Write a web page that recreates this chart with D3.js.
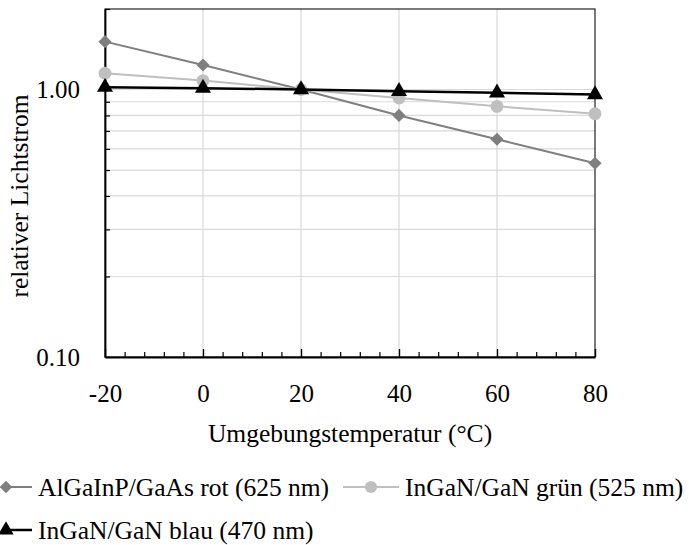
<!DOCTYPE html>
<html>
<head>
<meta charset="utf-8">
<script src="https://cdn.jsdelivr.net/npm/d3@7"></script>
<style>
  html, body { margin: 0; padding: 0; background: #fff; }
  svg { display: block; font-family: "Palatino Linotype", "Book Antiqua", Palatino, "Liberation Serif", serif; }
</style>
</head>
<body>
<svg id="chart" width="689" height="545"></svg>
<script>
// Temperatures (°C) and relative luminous flux per LED type
const temperatures = [-20, 0, 20, 40, 60, 80];
const redAlGaInP   = [1.51, 1.235, 1.00, 0.80, 0.652, 0.530];
const greenInGaN   = [1.15, 1.08, 1.00, 0.93, 0.865, 0.812];
const blueInGaN    = [1.02, 1.012, 1.00, 0.985, 0.972, 0.958];

const seriesNames = ["AlGaInP/GaAs rot (625 nm)", "InGaN/GaN grün (525 nm)", "InGaN/GaN blau (470 nm)"];
const yTickLabels = ["0.10", "1.00"];
const xTickValues = [-20, 0, 20, 40, 60, 80];

const svg = d3.select("#chart");
const W = 689, H = 545;
const m = { left: 105, right: 94, top: 9, bottom: 188 };
const x0 = m.left, x1 = W - m.right, y0 = H - m.bottom, y1 = m.top;

const x = d3.scaleLinear().domain([-20, 80]).range([x0, x1]);
const y = d3.scaleLog().domain([0.1, 2]).range([y0, y1]);

const gridColor = "#d9d9d9";
const tickFont = 25;
const labelFont = 25.5;

// horizontal gridlines (minor decade steps)
const hGrid = [0.2, 0.3, 0.4, 0.5, 0.6, 0.7, 0.8, 0.9, 1.0];
svg.append("g").selectAll("line").data(hGrid).join("line")
  .attr("x1", x0).attr("x2", x1)
  .attr("y1", d => y(d)).attr("y2", d => y(d))
  .attr("stroke", gridColor).attr("stroke-width", 1.2);

// vertical gridlines
svg.append("g").selectAll("line").data([0, 20, 40, 60]).join("line")
  .attr("x1", d => x(d)).attr("x2", d => x(d))
  .attr("y1", y1).attr("y2", y0)
  .attr("stroke", gridColor).attr("stroke-width", 1.2);

// frame
svg.append("rect").attr("x", x0).attr("y", y1)
  .attr("width", x1 - x0).attr("height", y0 - y1)
  .attr("fill", "none").attr("stroke", "#222").attr("stroke-width", 1.2);

// y axis with inward ticks
const yAxis = d3.axisLeft(y)
  .tickValues([0.1, 0.2, 0.3, 0.4, 0.5, 0.6, 0.7, 0.8, 0.9, 1.0, 2.0])
  .tickSizeInner(-5).tickSizeOuter(0)
  .tickFormat(d => {
    const i = [0.1, 1.0].indexOf(d);
    return i >= 0 ? yTickLabels[i] : "";
  });
const gy = svg.append("g").attr("transform", `translate(${x0},0)`).call(yAxis)
  .attr("font-family", null).attr("font-size", tickFont);
gy.select(".domain").attr("stroke", "#000").attr("stroke-width", 1.8);
gy.selectAll(".tick line").attr("stroke", "#000").attr("stroke-width", 1.2);
gy.selectAll(".tick text").attr("x", -25).attr("fill", "#000");

// x axis: minor ticks every 4, major every 20, all pointing inward
const minorX = d3.range(-20, 81, 4).filter(v => v % 20 !== 0);
const gxMinor = svg.append("g").attr("transform", `translate(0,${y0})`)
  .call(d3.axisBottom(x).tickValues(minorX).tickSizeInner(-5).tickSizeOuter(0).tickFormat(""));
gxMinor.select(".domain").remove();
gxMinor.selectAll(".tick line").attr("stroke", "#000").attr("stroke-width", 1.2);

const gx = svg.append("g").attr("transform", `translate(0,${y0})`)
  .call(d3.axisBottom(x).tickValues(xTickValues).tickSizeInner(-8).tickSizeOuter(0)
    .tickFormat(d => String(d)))
  .attr("font-family", null).attr("font-size", tickFont);
gx.select(".domain").attr("stroke", "#000").attr("stroke-width", 1.8);
gx.selectAll(".tick line").attr("stroke", "#000").attr("stroke-width", 1.4);
gx.selectAll(".tick text").attr("y", 36).attr("dy", "0.35em").attr("fill", "#000");

// axis titles
svg.append("text")
  .attr("x", (x0 + x1) / 2).attr("y", 442)
  .attr("text-anchor", "middle").attr("font-size", labelFont)
  .text("Umgebungstemperatur (°C)");
svg.append("text")
  .attr("transform", "translate(28,196) rotate(-90)")
  .attr("text-anchor", "middle").attr("font-size", labelFont)
  .text("relativer Lichtstrom");

// series definitions
const series = [
  { name: seriesNames[0], values: redAlGaInP, color: "#7f7f7f", width: 2, symbol: d3.symbolDiamond2, size: 110, fill: "#7f7f7f" },
  { name: seriesNames[1], values: greenInGaN, color: "#bfbfbf", width: 2, symbol: d3.symbolCircle, size: 130, fill: "#bfbfbf" },
  { name: seriesNames[2], values: blueInGaN,  color: "#000000", width: 2.5, symbol: d3.symbolTriangle, size: 112, fill: "#000000" }
];

const line = d3.line().x(d => x(d[0])).y(d => y(d[1]));

series.forEach(s => {
  const pts = temperatures.map((t, i) => [t, s.values[i]]);
  svg.append("path").datum(pts)
    .attr("d", line).attr("fill", "none")
    .attr("stroke", s.color).attr("stroke-width", s.width);
  svg.append("g").selectAll("path").data(pts).join("path")
    .attr("transform", d => `translate(${x(d[0])},${y(d[1])})`)
    .attr("d", d3.symbol().type(s.symbol).size(s.size))
    .attr("fill", s.fill);
});

// legend
const legendItems = [
  { s: series[0], lx: 0, ly: 487 },
  { s: series[1], lx: 343, ly: 487 },
  { s: series[2], lx: 0, ly: 530 }
];
legendItems.forEach(({ s, lx, ly }) => {
  const g = svg.append("g").attr("transform", `translate(${lx},${ly})`);
  const lineLen = lx === 0 ? 32 : 56;
  g.append("line").attr("x1", lx === 0 ? 4 : 0).attr("x2", lineLen)
    .attr("y1", 0).attr("y2", 0)
    .attr("stroke", s.color).attr("stroke-width", s.width);
  g.append("path")
    .attr("transform", `translate(${lx === 0 ? 6 : lineLen / 2},0)`)
    .attr("d", d3.symbol().type(s.symbol).size(s.size * 0.9))
    .attr("fill", s.fill);
  g.append("text").attr("x", lineLen + 6).attr("y", 0).attr("dy", "0.35em")
    .attr("font-size", labelFont).text(s.name);
});
</script>
</body>
</html>
